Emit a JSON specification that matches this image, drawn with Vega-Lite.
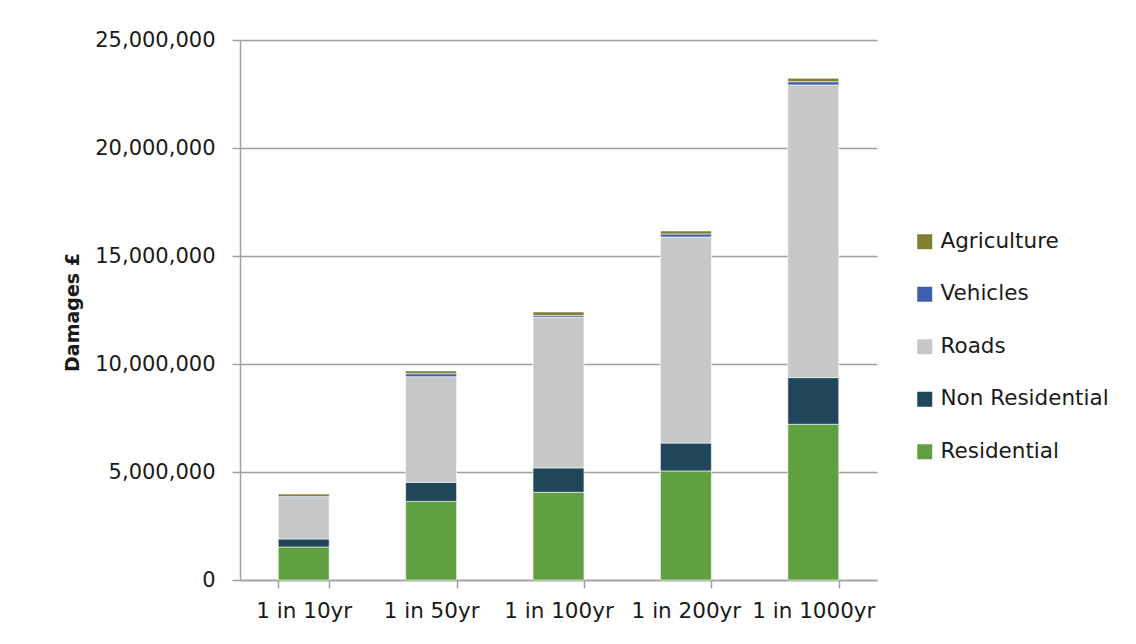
{
  "$schema": "https://vega.github.io/schema/vega-lite/v6.json",
  "autosize": "none",
  "padding": {"left": 240, "top": 40, "right": 259, "bottom": 64},
  "width": 637,
  "height": 540,
  "background": "white",
  "config": {
    "view": {"stroke": null},
    "font": "DejaVu Sans"
  },
  "data": {
    "values": [
      {"event": "1 in 10yr", "type": "Residential", "damages": 1530000},
      {"event": "1 in 10yr", "type": "Non Residential", "damages": 370000},
      {"event": "1 in 10yr", "type": "Roads", "damages": 1910000},
      {"event": "1 in 10yr", "type": "Vehicles", "damages": 50000},
      {"event": "1 in 10yr", "type": "Agriculture", "damages": 120000},
      {"event": "1 in 50yr", "type": "Residential", "damages": 3640000},
      {"event": "1 in 50yr", "type": "Non Residential", "damages": 880000},
      {"event": "1 in 50yr", "type": "Roads", "damages": 4890000},
      {"event": "1 in 50yr", "type": "Vehicles", "damages": 140000},
      {"event": "1 in 50yr", "type": "Agriculture", "damages": 130000},
      {"event": "1 in 100yr", "type": "Residential", "damages": 4060000},
      {"event": "1 in 100yr", "type": "Non Residential", "damages": 1130000},
      {"event": "1 in 100yr", "type": "Roads", "damages": 6970000},
      {"event": "1 in 100yr", "type": "Vehicles", "damages": 80000},
      {"event": "1 in 100yr", "type": "Agriculture", "damages": 170000},
      {"event": "1 in 200yr", "type": "Residential", "damages": 5050000},
      {"event": "1 in 200yr", "type": "Non Residential", "damages": 1290000},
      {"event": "1 in 200yr", "type": "Roads", "damages": 9540000},
      {"event": "1 in 200yr", "type": "Vehicles", "damages": 140000},
      {"event": "1 in 200yr", "type": "Agriculture", "damages": 140000},
      {"event": "1 in 1000yr", "type": "Residential", "damages": 7210000},
      {"event": "1 in 1000yr", "type": "Non Residential", "damages": 2160000},
      {"event": "1 in 1000yr", "type": "Roads", "damages": 13550000},
      {"event": "1 in 1000yr", "type": "Vehicles", "damages": 150000},
      {"event": "1 in 1000yr", "type": "Agriculture", "damages": 160000}
    ]
  },
  "transform": [
    {"calculate": "indexof(['Residential','Non Residential','Roads','Vehicles','Agriculture'], datum.type)", "as": "stackRank"}
  ],
  "mark": {"type": "bar", "stroke": "#ffffff", "strokeWidth": 0.6},
  "encoding": {
    "x": {
      "field": "event",
      "type": "nominal",
      "sort": ["1 in 10yr", "1 in 50yr", "1 in 100yr", "1 in 200yr", "1 in 1000yr"],
      "scale": {"paddingInner": 0.6, "paddingOuter": 0.3},
      "axis": {
        "title": null,
        "labelAngle": 0,
        "labelFont": "DejaVu Sans",
        "labelFontSize": 21.5,
        "labelColor": "#1a1a1a",
        "labelPadding": 12,
        "labelLimit": 300,
        "tickBand": "extent",
        "tickSize": 8,
        "tickColor": "#a0a0a0",
        "tickWidth": 1.5,
        "domainColor": "#a0a0a0",
        "domainWidth": 1.5,
        "grid": false
      }
    },
    "y": {
      "field": "damages",
      "type": "quantitative",
      "stack": "zero",
      "scale": {"domain": [0, 25000000], "nice": false},
      "axis": {
        "title": "Damages £",
        "titleFont": "DejaVu Sans",
        "titleFontSize": 19,
        "titleFontWeight": "bold",
        "titleColor": "#1a1a1a",
        "titleX": -168,
        "titleY": 272,
        "titleAngle": -90,
        "titleAlign": "center",
        "titleBaseline": "middle",
        "values": [0, 5000000, 10000000, 15000000, 20000000, 25000000],
        "format": ",d",
        "labelFont": "DejaVu Sans",
        "labelFontSize": 21,
        "labelColor": "#1a1a1a",
        "labelPadding": 17,
        "tickSize": 8,
        "tickColor": "#a0a0a0",
        "tickWidth": 1.5,
        "domainColor": "#a0a0a0",
        "domainWidth": 1.5,
        "grid": true,
        "gridColor": "#a0a0a0",
        "gridWidth": 1.5
      }
    },
    "color": {
      "field": "type",
      "type": "nominal",
      "sort": ["Agriculture", "Vehicles", "Roads", "Non Residential", "Residential"],
      "scale": {
        "domain": ["Agriculture", "Vehicles", "Roads", "Non Residential", "Residential"],
        "range": ["#7f8034", "#3f5fae", "#c6c7c9", "#1f4759", "#60a040"]
      },
      "legend": {
        "title": null,
        "orient": "none",
        "legendX": 674,
        "legendY": 191,
        "symbolType": "square",
        "symbolSize": 225,
        "symbolStrokeWidth": 0,
        "labelFont": "DejaVu Sans",
        "labelFontSize": 21.5,
        "labelColor": "#1a1a1a",
        "labelOffset": 5,
        "labelLimit": 300,
        "rowPadding": 29.5
      }
    },
    "order": {"field": "stackRank", "type": "quantitative", "sort": "ascending"}
  }
}
